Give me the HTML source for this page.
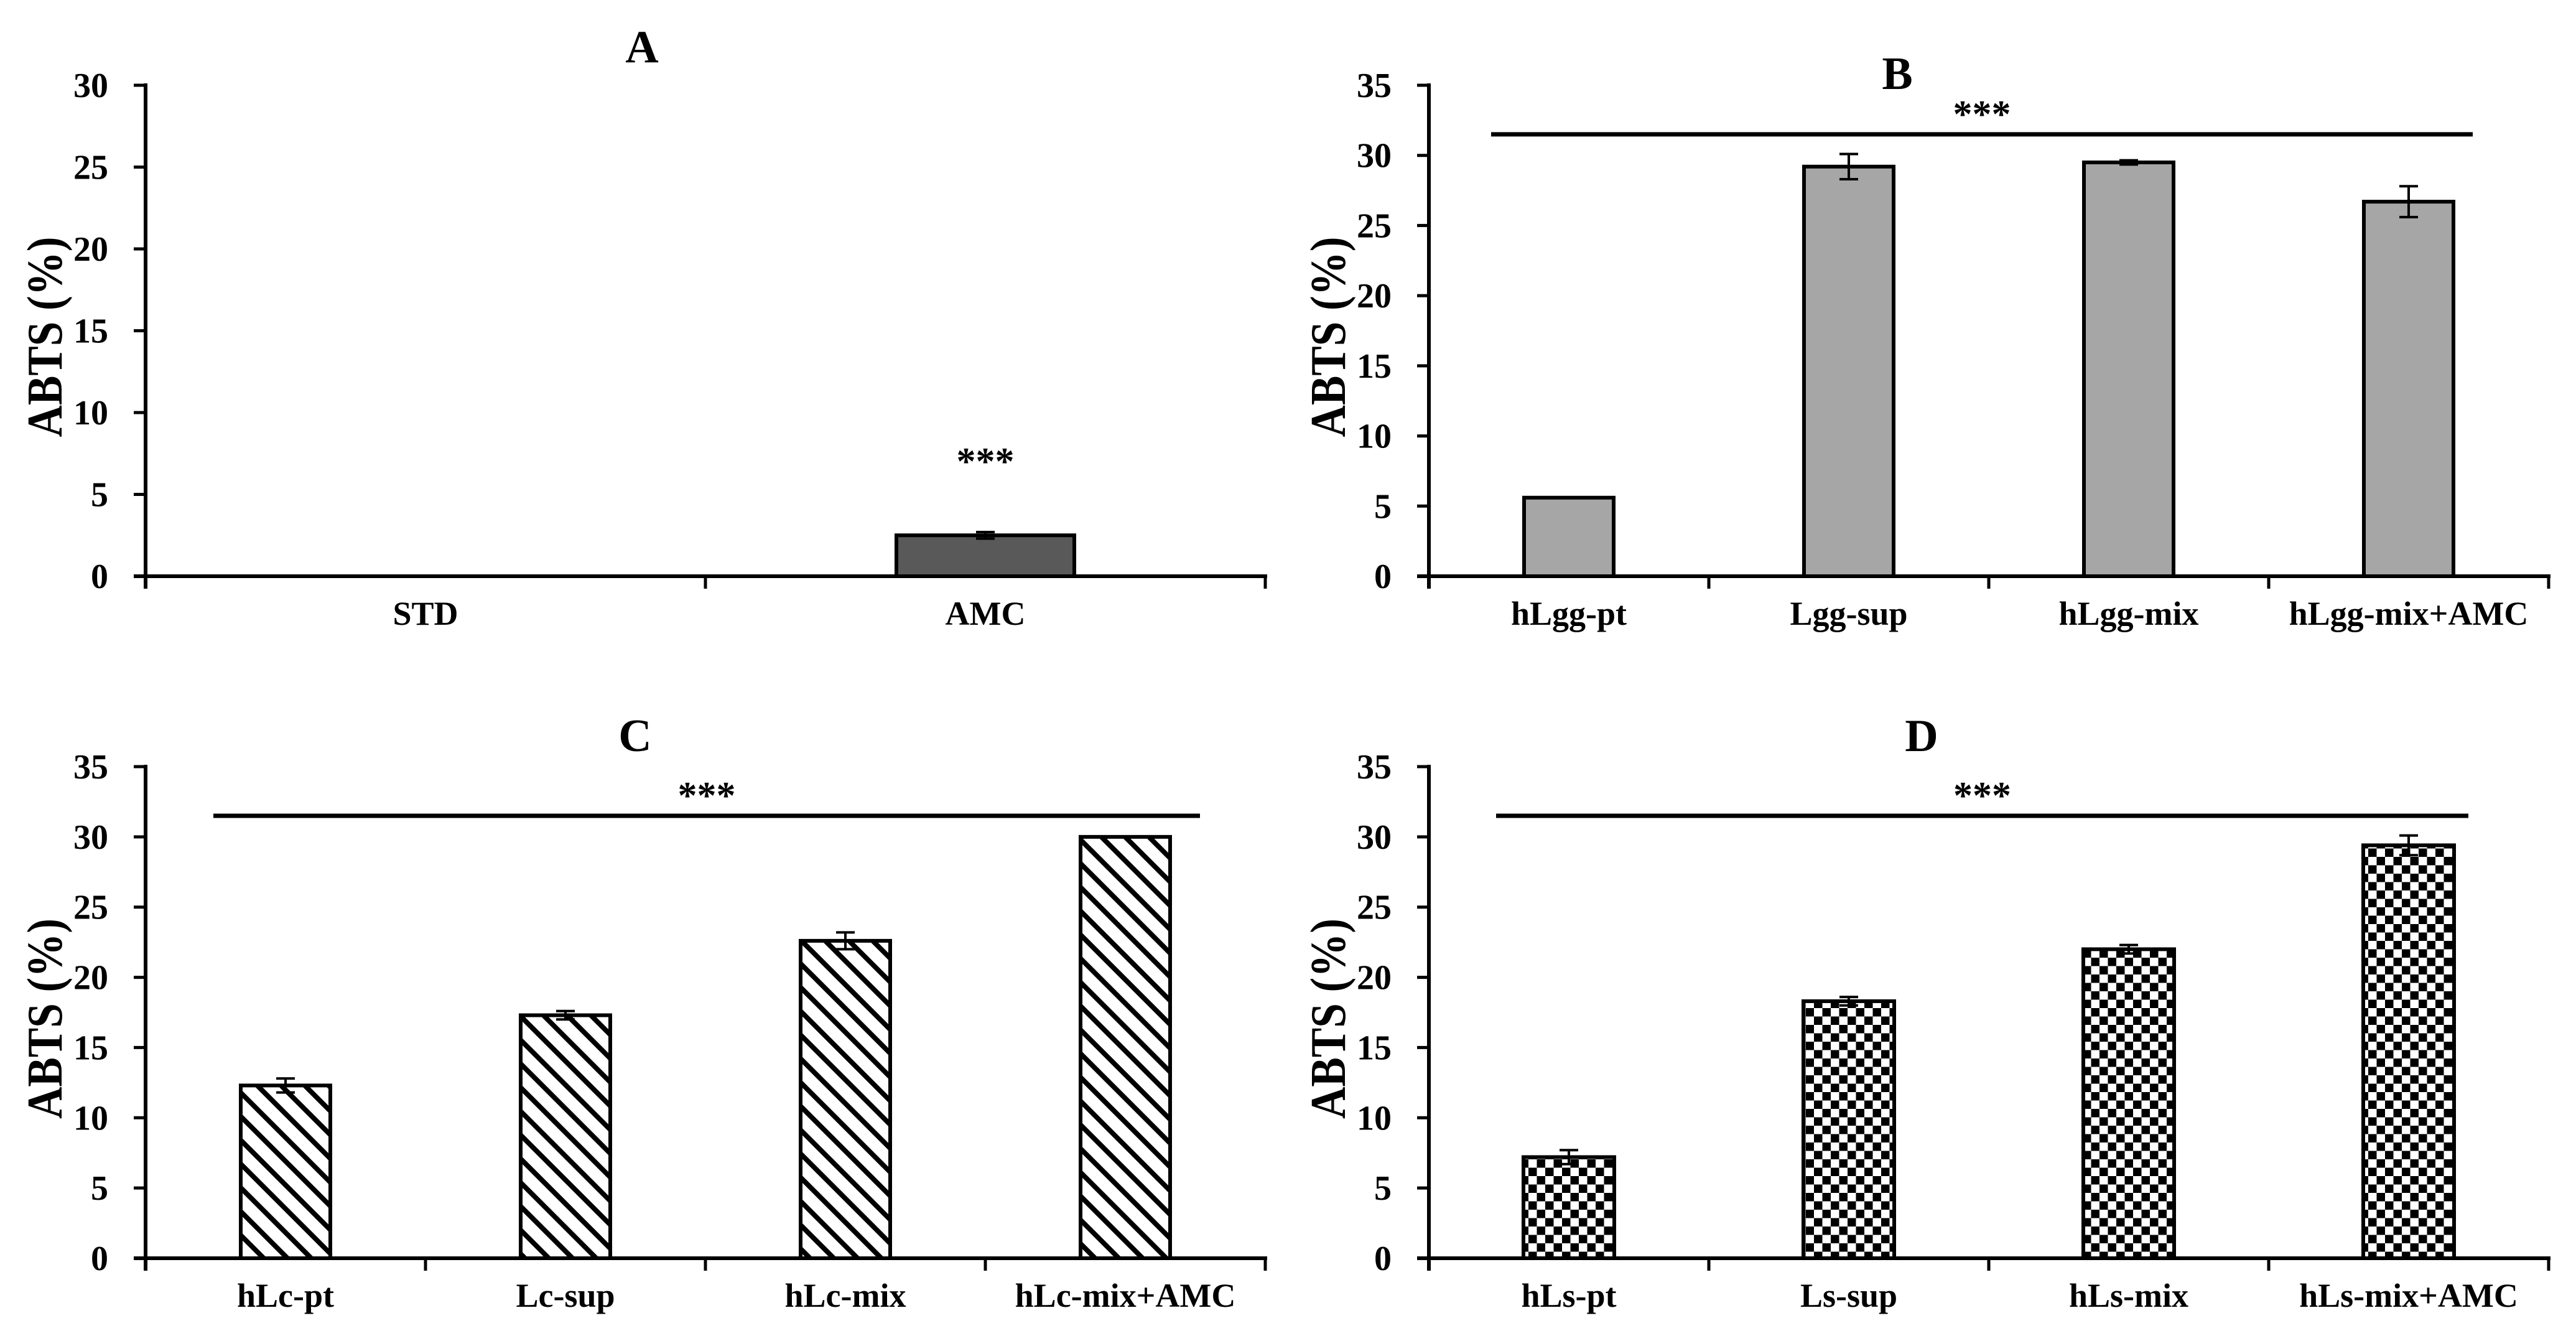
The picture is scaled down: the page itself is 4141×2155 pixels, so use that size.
<!DOCTYPE html>
<html><head><meta charset="utf-8"><style>
html,body{margin:0;padding:0;background:#fff;}
svg{display:block;}
text{font-family:"Liberation Serif","Times New Roman","DejaVu Serif",serif;font-weight:bold;fill:#000;}
</style></head><body>
<svg id="fig" width="4141" height="2155" viewBox="0 0 4141 2155" xmlns="http://www.w3.org/2000/svg" font-family="Liberation Serif, serif">
<defs>
<pattern id="hatch" patternUnits="userSpaceOnUse" width="27" height="27" patternTransform="rotate(-45)">
<rect width="27" height="27" fill="#fff"/><rect x="0" y="0" width="8" height="27" fill="#000"/>
</pattern>
<pattern id="checker" patternUnits="userSpaceOnUse" width="27" height="27">
<rect width="27" height="27" fill="#fff"/><rect x="13.5" y="0" width="13.5" height="13.5" fill="#000"/><rect x="0" y="13.5" width="13.5" height="13.5" fill="#000"/>
</pattern>
</defs>
</svg>
<script>
// Panel A data
const catsA = ["STD", "AMC"];
const valsA = [0, 2.5];
const errsA = [0, 0.2];
const ticksA = [0, 5, 10, 15, 20, 25, 30];
// Panel B data
const catsB = ["hLgg-pt", "Lgg-sup", "hLgg-mix", "hLgg-mix+AMC"];
const valsB = [5.6, 29.2, 29.5, 26.7];
const errsB = [0, 0.9, 0.15, 1.1];
// Panel C data
const catsC = ["hLc-pt", "Lc-sup", "hLc-mix", "hLc-mix+AMC"];
const valsC = [12.3, 17.3, 22.6, 30.0];
const errsC = [0.5, 0.3, 0.6, 0];
// Panel D data
const catsD = ["hLs-pt", "Ls-sup", "hLs-mix", "hLs-mix+AMC"];
const valsD = [7.2, 18.3, 22.0, 29.4];
const errsD = [0.5, 0.3, 0.3, 0.7];
const ticks35 = [0, 5, 10, 15, 20, 25, 30, 35];
const sigLevel = 31.5;

const NS = "http://www.w3.org/2000/svg";
const svg = document.getElementById("fig");
function mk(tag, attrs, parent) {
  const e = document.createElementNS(NS, tag);
  for (const k in attrs) e.setAttribute(k, attrs[k]);
  if (tag === "text") { e.setAttribute("font-family", "Liberation Serif, Times New Roman, serif"); e.setAttribute("font-weight", "bold"); }
  (parent || svg).appendChild(e);
  return e;
}

function panel(opt) {
  const g = mk("g", {});
  
  
  const x0 = opt.x0, x1 = opt.x1, y0 = opt.y0, yTop = opt.yTop, ymax = opt.ymax;
  const yS = v => y0 - (v / ymax) * (y0 - yTop);
  const n = opt.cats.length;
  const bw = (x1 - x0) / n;
  const xC = i => x0 + bw * (i + 0.5);

  const t = mk("text", {x: opt.titleX, y: opt.titleY, "font-size": 74, "text-anchor": "middle"}, g);
  t.textContent = opt.id;
  
  

  const yl = mk("text", {x: 0, y: 0, "font-size": 80, "text-anchor": "middle", textLength: 322, lengthAdjust: "spacingAndGlyphs",
    transform: "translate(" + (opt.x0 - 135) + "," + ((y0 + yTop) / 2 + 10) + ") rotate(-90)"}, g);
  yl.textContent = "ABTS (%)";
  
  

  opt.ticks.forEach(v => {
    const y = yS(v);
    const tk = mk("line", {x1: x0 - 19, x2: x0, y1: y, y2: y, stroke: "#000", "stroke-width": 5}, g);
    
    
    const tl = mk("text", {x: x0 - 60, y: y + 19, "font-size": 56, "text-anchor": "end"}, g);
    tl.textContent = v;
    
    
  });

  const barW = opt.barW;
  opt.vals.forEach((v, i) => {
    if (v <= 0) return;
    const r = mk("rect", {x: xC(i) - barW / 2, y: yS(v), width: barW, height: y0 - yS(v), fill: opt.fill, stroke: "#000", "stroke-width": 6}, g);
    
    
    const e = opt.errs[i];
    if (e > 0) {
      const eg = mk("g", {stroke: "#000", "stroke-width": 4}, g);
      
      
      mk("line", {x1: xC(i), x2: xC(i), y1: yS(v + e), y2: yS(v - e)}, eg);
      mk("line", {x1: xC(i) - 15, x2: xC(i) + 15, y1: yS(v + e), y2: yS(v + e)}, eg);
      mk("line", {x1: xC(i) - 15, x2: xC(i) + 15, y1: yS(v - e), y2: yS(v - e)}, eg);
    }
  });

  const ya = mk("line", {x1: x0, x2: x0, y1: yTop - 3, y2: y0 + 20, stroke: "#000", "stroke-width": 6}, g);
  
  
  const xa = mk("line", {x1: x0 - 19, x2: x1 + 3, y1: y0, y2: y0, stroke: "#000", "stroke-width": 6}, g);
  
  
  for (let i = 1; i <= n; i++) {
    const xt = mk("line", {x1: x0 + bw * i, x2: x0 + bw * i, y1: y0, y2: y0 + 20, stroke: "#000", "stroke-width": 5}, g);
    
    
  }
  opt.cats.forEach((c, i) => {
    const xl = mk("text", {x: xC(i), y: y0 + 78, "font-size": 54, "text-anchor": "middle"}, g);
    xl.textContent = c;
    
    
  });

  if (opt.sigLine) {
    const sy = yS(sigLevel);
    const sl = mk("line", {x1: opt.sigX1, x2: opt.sigX2, y1: sy, y2: sy, stroke: "#000", "stroke-width": 7}, g);
    
    
    const st = mk("text", {x: (opt.sigX1 + opt.sigX2) / 2, y: sy - 12, "font-size": 62, "text-anchor": "middle"}, g);
    st.textContent = "***";
    
    
  } else {
    const st = mk("text", {x: xC(1), y: 762, "font-size": 62, "text-anchor": "middle"}, g);
    st.textContent = "***";
    
    
  }
}

panel({id: "A", cats: catsA, vals: valsA, errs: errsA, ticks: ticksA, ymax: 30,
  x0: 234, x1: 2034, y0: 926, yTop: 137, barW: 286, fill: "#595959",
  titleX: 1032, titleY: 100, sigLine: false});
panel({id: "B", cats: catsB, vals: valsB, errs: errsB, ticks: ticks35, ymax: 35,
  x0: 2297, x1: 4097, y0: 926, yTop: 137, barW: 144, fill: "#a6a6a6",
  titleX: 3050, titleY: 143, sigLine: true, sigX1: 2397, sigX2: 3975});
panel({id: "C", cats: catsC, vals: valsC, errs: errsC, ticks: ticks35, ymax: 35,
  x0: 234, x1: 2034, y0: 2022, yTop: 1232, barW: 144, fill: "url(#hatch)",
  titleX: 1021, titleY: 1207, sigLine: true, sigX1: 343, sigX2: 1929});
panel({id: "D", cats: catsD, vals: valsD, errs: errsD, ticks: ticks35, ymax: 35,
  x0: 2297, x1: 4097, y0: 2022, yTop: 1232, barW: 146, fill: "url(#checker)",
  titleX: 3089, titleY: 1207, sigLine: true, sigX1: 2405, sigX2: 3968});
</script>
</body></html>
